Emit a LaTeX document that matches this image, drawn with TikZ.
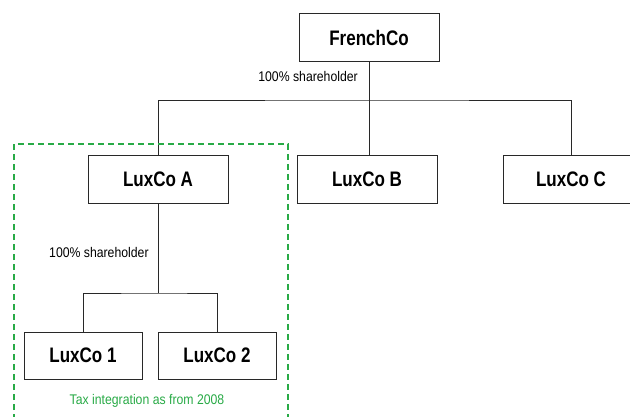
\documentclass[tikz,border=0pt]{standalone}
\usepackage{fontspec}
\setmainfont{Liberation Sans}[FakeStretch=0.81]
\newfontfamily\lblfont{Liberation Sans}[FakeStretch=0.875]
\definecolor{taxgreen}{RGB}{40,170,70}
\definecolor{linegray}{RGB}{40,40,40}
\begin{document}
\begin{tikzpicture}[x=1pt,y=-1pt,
  company/.style={draw=linegray, line width=0.9pt, fill=white, inner sep=0pt,
    minimum height=48pt, font=\fontsize{21}{24}\selectfont\bfseries},
  link/.style={draw=linegray, line width=0.9pt},
  lbl/.style={font=\lblfont\fontsize{14}{16}\selectfont, text=black, inner sep=0pt},
  taxbox/.style={draw=taxgreen, line width=1.2pt, dash pattern=on 6pt off 4pt}]
\useasboundingbox (0,0) rectangle (630,416);
\clip (0,0) rectangle (630,416);
\node[company, minimum width=140pt] (F) at (369,37.5) {FrenchCo};
\node[company, minimum width=140pt] (A) at (158,179) {LuxCo A};
\node[company, minimum width=140pt] (B) at (367,179) {LuxCo B};
\node[company, minimum width=136pt] (C) at (571,179) {LuxCo C};
\node[company, minimum width=118pt, minimum height=47pt] (L1) at (83,355.5) {LuxCo 1};
\node[company, minimum width=118pt, minimum height=47pt] (L2) at (217,355.5) {LuxCo 2};
\coordinate (bus) at (369,100);
\coordinate (bus2) at (156,293);
\draw[link] (F.south) -- (bus);
\draw[link] (A.north) |- (bus) -| (C.north);
\draw[link] (bus) -- (bus |- B.north);
\draw[link] (A.south) -- (A.south |- bus2);
\draw[link] (L1.north) |- (A.south |- bus2) -| (L2.north);
\node[lbl, anchor=east] (s1) at (358,76) {100\% shareholder};
\node[lbl, anchor=west] (s2) at (49,252) {100\% shareholder};
\draw[taxbox] (14,430) -- (14,144) -- (288,144) -- (288,430);
\node[lbl, text=taxgreen] (tax) at (147,401) {Tax integration as from 2008};
\end{tikzpicture}
\end{document}
